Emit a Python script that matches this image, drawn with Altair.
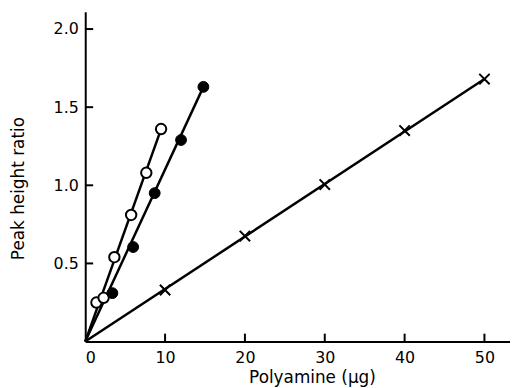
import altair as alt
import pandas as pd

# --- data ---
open_x = [1.4, 2.3, 3.65, 5.75, 7.65, 9.5]
open_y = [0.25, 0.28, 0.54, 0.81, 1.08, 1.36]

filled_x = [3.4, 6.0, 8.7, 12.0, 14.8]
filled_y = [0.31, 0.605, 0.95, 1.29, 1.63]

cross_x = [10, 20, 30, 40, 50]
cross_y = [0.33, 0.675, 1.005, 1.35, 1.68]

x_ticks = [10, 20, 30, 40, 50]
x_labels = [0, 10, 20, 30, 40, 50]
y_ticks = [0.5, 1.0, 1.5, 2.0]

X_DOMAIN = [0, 53.2]
Y_DOMAIN = [0, 2.11]
W, H = 429, 333
TICK = 8

df_open = pd.DataFrame({"x": open_x, "y": open_y})
df_filled = pd.DataFrame({"x": filled_x, "y": filled_y})
df_cross = pd.DataFrame({"x": cross_x, "y": cross_y})
df_xt = pd.DataFrame({"x": x_ticks})
df_yt = pd.DataFrame({"y": y_ticks})

lines = []
for name, xs_, ys_ in [("open", open_x, open_y), ("filled", filled_x, filled_y), ("cross", cross_x, cross_y)]:
    lines.append({"s": name, "x": 0, "y": 0})
    lines.append({"s": name, "x": xs_[-1], "y": ys_[-1]})
df_lines = pd.DataFrame(lines)

FONT = "DejaVu Sans"
xs = alt.Scale(domain=X_DOMAIN, nice=False, zero=False)
ys = alt.Scale(domain=Y_DOMAIN, nice=False, zero=False)

x_main = alt.X("x:Q", scale=xs, axis=alt.Axis(
    values=x_labels, ticks=False, labelPadding=8, domainWidth=2, domainColor="black",
    labelFontSize=16, labelFont=FONT, labelColor="black", grid=False,
    title="Polyamine (μg)", titleFont=FONT, titleFontSize=17, titleFontWeight="normal",
    titleColor="black", titleX=229, titleY=41, titleBaseline="alphabetic"))
y_main = alt.Y("y:Q", scale=ys, axis=alt.Axis(
    values=y_ticks, format=".1f", ticks=False, labelPadding=7, domainWidth=2, domainColor="black",
    labelFontSize=16, labelFont=FONT, labelColor="black", grid=False,
    title="Peak height ratio", titleFont=FONT, titleFontSize=17, titleFontWeight="normal",
    titleColor="black", titleX=-67, titleY=178, titleBaseline="middle"))

line_layer = alt.Chart(df_lines).mark_line(color="black", strokeWidth=2.5).encode(
    x=x_main, y=y_main, detail="s:N")

# inward tick marks on both axes
xtick_layer = alt.Chart(df_xt).mark_rule(color="black", strokeWidth=2).encode(
    x="x:Q", y=alt.value(H), y2=alt.value(H - TICK))
ytick_layer = alt.Chart(df_yt).mark_rule(color="black", strokeWidth=2).encode(
    y="y:Q", x=alt.value(0), x2=alt.value(TICK))

open_layer = alt.Chart(df_open).mark_point(
    shape="circle", filled=True, fill="white", stroke="black", strokeWidth=2, size=110, opacity=1
).encode(x="x:Q", y="y:Q")

filled_layer = alt.Chart(df_filled).mark_point(
    shape="circle", filled=True, fill="black", stroke="black", strokeWidth=1, size=120, opacity=1
).encode(x="x:Q", y="y:Q")

cross_layer = alt.Chart(df_cross).mark_point(
    shape="M-1,-1L1,1M-1,1L1,-1", filled=False, stroke="black", strokeWidth=2, size=110, opacity=1
).encode(x="x:Q", y="y:Q")

chart = alt.layer(
    line_layer, xtick_layer, ytick_layer, open_layer, filled_layer, cross_layer
).properties(
    width=W, height=H,
    autosize=alt.AutoSizeParams(type="none"),
    padding={"left": 78, "top": 2, "right": 0, "bottom": 45},
    background="white",
).configure_view(stroke=None)

chart.save("out.html", embed_options={"renderer": "svg", "actions": False})
